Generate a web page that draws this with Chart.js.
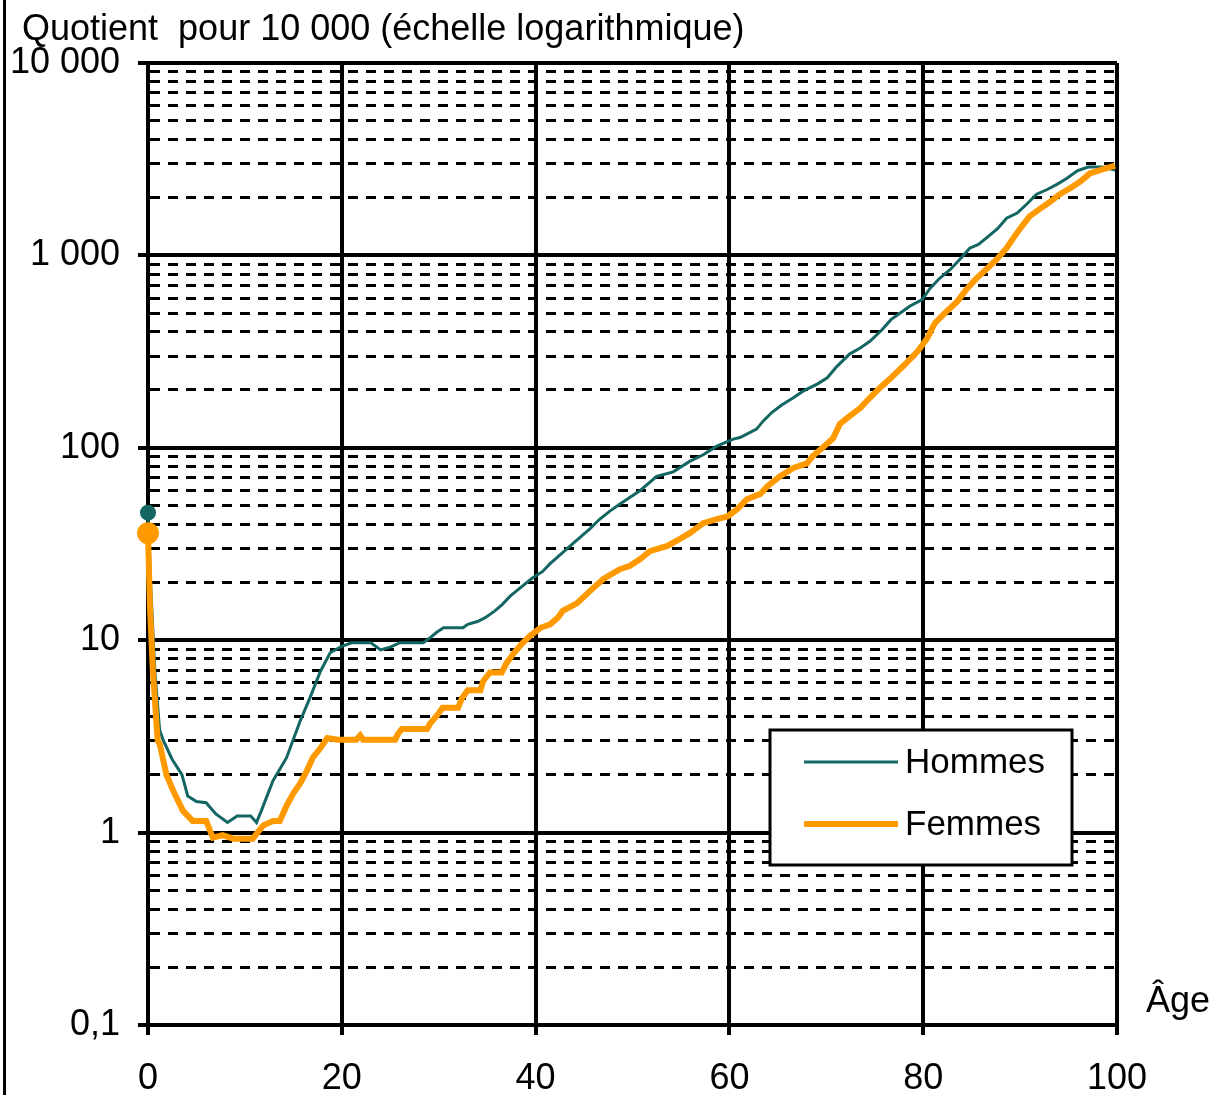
<!DOCTYPE html>
<html>
<head>
<meta charset="utf-8">
<script src="https://cdn.jsdelivr.net/npm/chart.js@4"></script>
<style>
  html, body { margin: 0; padding: 0; background: #fff; }
  canvas { display: block; }
</style>
</head>
<body>
<canvas id="quotient-chart" width="1218" height="1095"></canvas>
<script>
// Quotient de mortalité pour 10 000, par âge
const hommesAge = [0, 0.3, 0.7, 1.2, 1.6, 2.5, 3.5, 4.1, 5, 6, 7, 8.2, 9.2, 10.6, 11.2, 11.7, 12.9, 14.3, 15.7, 16.7, 17.8, 18.8, 20, 21, 23, 24, 25, 26, 28.4, 29, 29.8, 30.5, 32.5, 33, 34, 34.8, 35.8, 36.6, 37.4, 38.7, 39.7, 40.7, 41.5, 43.9, 45.6, 46.6, 47.7, 48.7, 50.8, 52.5, 54.2, 55.9, 57.3, 58.7, 60.4, 61.1, 62.8, 63.5, 64.4, 65.4, 66.6, 67.6, 69.1, 70.1, 71.1, 72.4, 73.5, 74.5, 75.7, 76.7, 77.6, 78.6, 79.9, 80.7, 81.7, 82.8, 84, 84.8, 85.7, 86.6, 87.7, 88.6, 89.7, 90.7, 91.7, 92.8, 93.8, 94.8, 95.9, 97, 98.5, 99.8];
const hommesQ = [46, 18, 7, 3.4, 3.0, 2.4, 2.0, 1.55, 1.45, 1.43, 1.25, 1.13, 1.22, 1.22, 1.13, 1.3, 1.86, 2.45, 3.8, 5.0, 6.9, 8.6, 9.3, 9.7, 9.7, 8.9, 9.2, 9.7, 9.7, 10.2, 11.0, 11.6, 11.6, 12.1, 12.5, 13.1, 14.2, 15.4, 17.0, 19.2, 21.1, 22.7, 25, 32, 37.9, 42.5, 47, 51, 60, 71, 75, 85, 92, 102, 111, 113, 125, 138, 153, 167, 182, 197, 215, 231, 265, 307, 330, 358, 408, 465, 500, 544, 590, 674, 760, 845, 980, 1090, 1140, 1240, 1380, 1560, 1660, 1850, 2080, 2200, 2340, 2510, 2750, 2880, 2880, 2780];

const femmesAge = [0, 0.2, 0.5, 1, 1.2, 1.9, 2.6, 3.6, 4.6, 6, 6.7, 7.7, 8.8, 10.8, 11.9, 12.9, 13.6, 14.3, 15, 15.7, 16.4, 17, 17.8, 18.5, 19.6, 21.5, 21.9, 22.2, 25.5, 25.8, 26.2, 28.8, 29.1, 29.8, 30.4, 32, 32.4, 33, 34.3, 34.6, 35.3, 36.5, 37, 37.7, 38.6, 39.4, 40.5, 41.5, 42.3, 42.8, 44.3, 45.6, 47, 48.7, 49.7, 50.8, 51.8, 53.6, 54.9, 55.9, 57.3, 58.7, 59.8, 60.8, 61.8, 63.2, 63.9, 65.2, 66.6, 68, 68.6, 69.7, 70.7, 71.4, 72.4, 73.5, 74.5, 75.5, 76.6, 78.1, 79.4, 80.4, 81.2, 82.2, 83.5, 84.5, 85.5, 86.6, 87.6, 88.6, 89.3, 90.2, 91, 92, 93.1, 94.1, 95.2, 96.2, 97.2, 98.5, 99.8];
const femmesQ = [36, 15, 7, 3.0, 2.9, 2.0, 1.65, 1.3, 1.15, 1.15, 0.94, 0.97, 0.93, 0.93, 1.09, 1.15, 1.15, 1.38, 1.6, 1.8, 2.1, 2.45, 2.75, 3.1, 3.04, 3.04, 3.2, 3.04, 3.04, 3.26, 3.46, 3.46, 3.68, 4.05, 4.45, 4.45, 5.0, 5.5, 5.5, 6.15, 6.8, 6.8, 7.6, 8.5, 9.6, 10.5, 11.6, 12.1, 13.1, 14.2, 15.6, 18, 20.8, 23.4, 24.3, 26.4, 29, 30.9, 33.6, 36, 40.6, 42.6, 44, 48, 54, 57.6, 63, 71, 78.5, 83, 90.6, 101, 112, 133, 146, 161, 182, 204, 229, 271, 316, 370, 444, 500, 575, 670, 760, 855, 955, 1090, 1230, 1420, 1600, 1740, 1900, 2080, 2240, 2420, 2670, 2800, 2930];

// axes
const yDecades = [0.1, 1, 10, 100, 1000, 10000];
const yDecadeLabels = ['0,1', '1', '10', '100', '1 000', '10 000'];
const yMultipliers = [1, 2, 3, 4, 5, 6, 7, 8, 9];
const xTicks = [0, 20, 40, 60, 80, 100];

const seriesNames = ['Hommes', 'Femmes'];
const TEAL = '#136661';
const ORANGE = '#FF9900';
const FONT = '"Liberation Sans", Arial, sans-serif';

const yTicks = [];
yDecades.forEach((d, i) => {
  if (i === yDecades.length - 1) { yTicks.push(d); return; }
  yMultipliers.forEach(m => yTicks.push(+(d * m).toPrecision(6)));
});

function isDecade(v) {
  const l = Math.log10(v);
  return Math.abs(l - Math.round(l)) < 1e-6;
}

const toPoints = (ages, vals) => ages.map((a, i) => ({ x: a, y: vals[i] }));

const decoPlugin = {
  id: 'deco',
  afterDraw(chart) {
    const { ctx } = chart;
    ctx.save();

    // left frame line
    ctx.strokeStyle = '#000';
    ctx.lineWidth = 3;
    ctx.beginPath();
    ctx.moveTo(4.5, 0);
    ctx.lineTo(4.5, 1095);
    ctx.stroke();

    ctx.fillStyle = '#000';
    ctx.font = '36px ' + FONT;
    ctx.textBaseline = 'middle';
    ctx.textAlign = 'left';
    ctx.fillText('Quotient  pour 10 000 (échelle logarithmique)', 22, 30);
    ctx.fillText('Âge', 1146, 1002);

    // legend box
    const bx = 770, by = 730, bw = 302, bh = 135;
    ctx.fillStyle = '#fff';
    ctx.fillRect(bx, by, bw, bh);
    ctx.strokeStyle = '#000';
    ctx.lineWidth = 3;
    ctx.strokeRect(bx, by, bw, bh);

    const rows = [
      { name: seriesNames[0], color: TEAL, w: 3, y: 762 },
      { name: seriesNames[1], color: ORANGE, w: 6, y: 824 },
    ];
    rows.forEach(r => {
      ctx.strokeStyle = r.color;
      ctx.lineWidth = r.w;
      ctx.beginPath();
      ctx.moveTo(804, r.y);
      ctx.lineTo(898, r.y);
      ctx.stroke();
      ctx.fillStyle = '#000';
      ctx.font = '35px ' + FONT;
      ctx.fillText(r.name, 905, r.y + 1);
    });

    ctx.restore();
  }
};

new Chart(document.getElementById('quotient-chart'), {
  type: 'line',
  data: {
    datasets: [
      {
        label: seriesNames[0],
        data: toPoints(hommesAge, hommesQ),
        borderColor: TEAL,
        backgroundColor: TEAL,
        borderWidth: 3,
        pointRadius: (c) => c.dataIndex === 0 ? 8 : 0,
        pointBorderWidth: 0,
        tension: 0,
        clip: false,
        order: 1,
      },
      {
        label: seriesNames[1],
        data: toPoints(femmesAge, femmesQ),
        borderColor: ORANGE,
        backgroundColor: ORANGE,
        borderWidth: 6,
        pointRadius: (c) => c.dataIndex === 0 ? 11 : 0,
        pointBorderWidth: 0,
        tension: 0,
        clip: false,
        order: 0,
      },
    ],
  },
  options: {
    responsive: false,
    animation: false,
    layout: { padding: { left: 0, top: 63, right: 101, bottom: 0 } },
    scales: {
      x: {
        type: 'linear',
        min: 0,
        max: 100,
        afterBuildTicks: (s) => { s.ticks = xTicks.map(v => ({ value: v })); },
        afterFit: (s) => { s.height = 70; },
        ticks: { color: '#000', font: { family: FONT, size: 36 }, padding: 22, autoSkip: false, maxRotation: 0 },
        grid: { color: '#000', lineWidth: 4, tickLength: 10, tickColor: '#000', tickWidth: 4 },
        border: { color: '#000', width: 4 },
      },
      y: {
        type: 'logarithmic',
        min: 0.1,
        max: 10000,
        afterBuildTicks: (s) => { s.ticks = yTicks.map(v => ({ value: v })); },
        afterFit: (s) => { s.width = 148; },
        ticks: {
          color: '#000',
          font: { family: FONT, size: 36 },
          padding: 18,
          autoSkip: false,
          callback: (v) => {
            const i = yDecades.findIndex(d => Math.abs(d - v) / d < 1e-6);
            return i >= 0 ? yDecadeLabels[i] : '';
          },
        },
        grid: {
          color: '#000',
          lineWidth: (c) => (c.tick && isDecade(c.tick.value)) ? 4 : 3,
          tickLength: 10,
          tickWidth: 4,
          tickColor: (c) => (c.tick && isDecade(c.tick.value)) ? '#000' : 'rgba(0,0,0,0)',
        },
        border: {
          color: '#000',
          width: 4,
          dash: (c) => (c.tick && !isDecade(c.tick.value)) ? [10, 8] : [],
        },
      },
    },
    plugins: {
      legend: { display: false },
      tooltip: { enabled: false },
    },
  },
  plugins: [decoPlugin],
});
</script>
</body>
</html>
